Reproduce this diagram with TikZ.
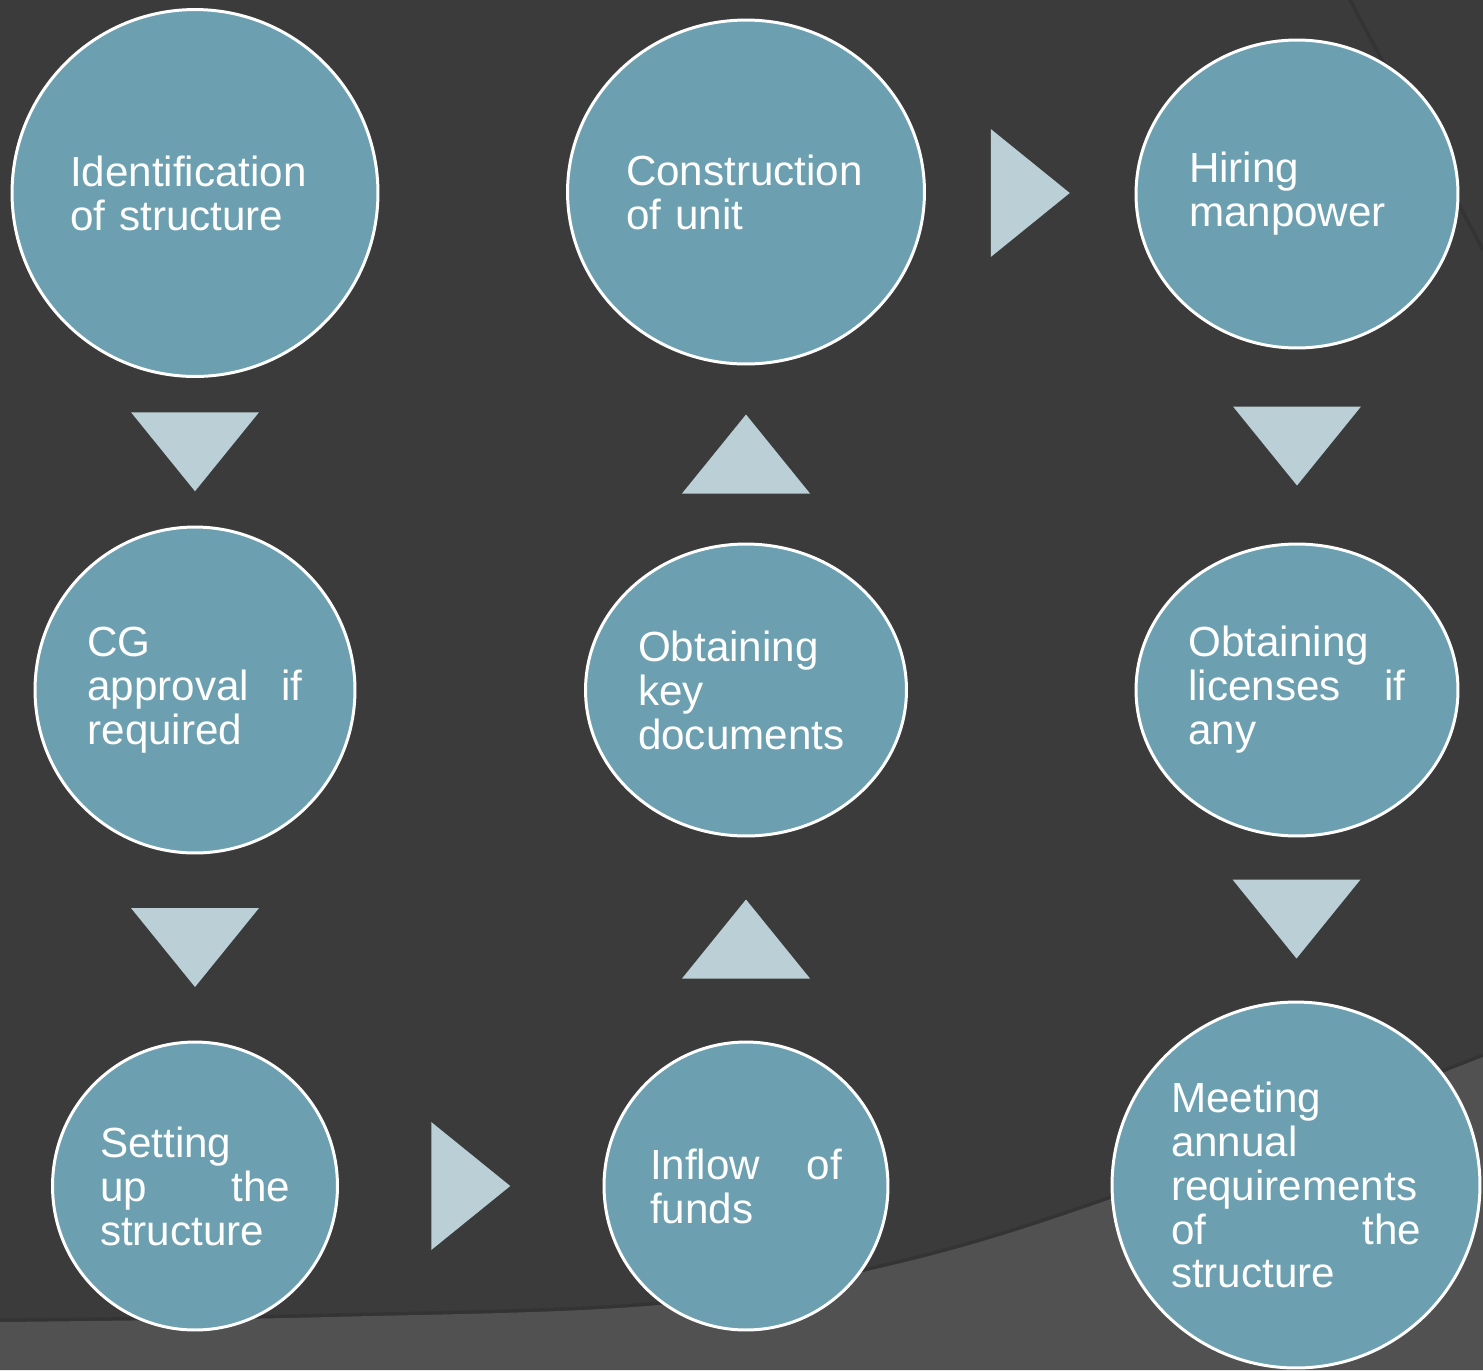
\documentclass[tikz,border=0pt]{standalone}
\usepackage{fontspec}
\setmainfont{Liberation Sans}
\usepackage{tikz}
\usetikzlibrary{shapes.geometric, positioning, calc}

\definecolor{slidebg}{HTML}{3B3B3B}
\definecolor{slidelow}{HTML}{515151}
\definecolor{slideshade}{HTML}{343434}
\definecolor{stepfill}{HTML}{6CA0B0}
\definecolor{arrowfill}{HTML}{BACFD6}

\tikzset{
  stepcircle/.style={ellipse, draw=white, line width=1.7pt, fill=stepfill,
    inner sep=0pt, text=white, align=left,
    font=\fontsize{24}{25}\selectfont},
  flowtri/.style={fill=arrowfill}
}

\begin{document}
\begin{tikzpicture}[x=0.02cm, y=-0.02cm]
\useasboundingbox (0,0) rectangle (1483,1370);

% Background
\fill[slidebg] (0,0) rectangle (1483,1370);
\draw[slideshade, line width=2pt] (1350,0) -- (1483,250);
\draw[slideshade, line width=4pt] plot[smooth, tension=0.6] coordinates
  {(0,1322) (330,1317) (658,1305) (880,1268) (1108,1200) (1483,1057)};
\fill[slidelow] plot[smooth, tension=0.6] coordinates
  {(0,1322) (330,1317) (658,1305) (880,1268) (1108,1200) (1483,1057)}
  -- (1483,1370) -- (0,1370) -- cycle;

% First column
\node[stepcircle, minimum width=7.32cm, minimum height=7.34cm, text width=5cm] (ident) at (195,193)
  {Identification\\of structure};
\node[stepcircle, minimum width=6.4cm, minimum height=6.52cm, text width=4.3cm] (cgappr) at (195,690)
  {CG\\approval\hfill if\\required};
\node[stepcircle, minimum width=5.7cm, minimum height=5.76cm, text width=3.8cm] (setup) at (195,1186)
  {Setting\\up\hfill the\\structure};

% Second column
\node[stepcircle, minimum width=5.68cm, minimum height=5.76cm, text width=3.84cm] (inflow) at (746,1186)
  {Inflow\hfill of\\funds};
\node[stepcircle, minimum width=6.42cm, minimum height=5.84cm, text width=4.32cm] (keydocs) at (746,690)
  {Obtaining\\key\\documents};
\node[stepcircle, minimum width=7.14cm, minimum height=6.88cm, text width=4.8cm] (constr) at (746,192)
  {Construction\\of unit};

% Third column
\node[stepcircle, minimum width=6.44cm, minimum height=6.16cm, text width=4.32cm] (hiring) at (1297,194)
  {Hiring\\manpower};
\node[stepcircle, minimum width=6.44cm, minimum height=5.84cm, text width=4.34cm] (licence) at (1297,690)
  {Obtaining\\licenses\hfill if\\any};
\node[stepcircle, minimum width=7.36cm, minimum height=7.32cm, text width=5cm] (annual) at (1296,1185)
  {Meeting\\annual\\requirements\\of\hfill the\\structure};

% Arrows between steps
\coordinate (m1) at ($(ident.south)!0.5!(cgappr.north)$);
\coordinate (m2) at ($(cgappr.south)!0.5!(setup.north)$);
\coordinate (m3) at ($(setup.east)!0.5!(inflow.west)$);
\coordinate (m4) at ($(inflow.north)!0.5!(keydocs.south)$);
\coordinate (m5) at ($(keydocs.north)!0.5!(constr.south)$);
\coordinate (m6) at ($(constr.east)!0.5!(hiring.west)$);
\coordinate (m7) at ($(hiring.south)!0.5!(licence.north)$);
\coordinate (m8) at ($(licence.south)!0.5!(annual.north)$);
\foreach \m/\r in {m1/-90, m2/-90, m3/0, m4/90, m5/90, m6/0, m7/-90, m8/-90} {
    \fill[flowtri, shift={(\m)}, rotate=\r] (-39.5,-64) -- (-39.5,64) -- (39.5,0) -- cycle;
}
\end{tikzpicture}
\end{document}
